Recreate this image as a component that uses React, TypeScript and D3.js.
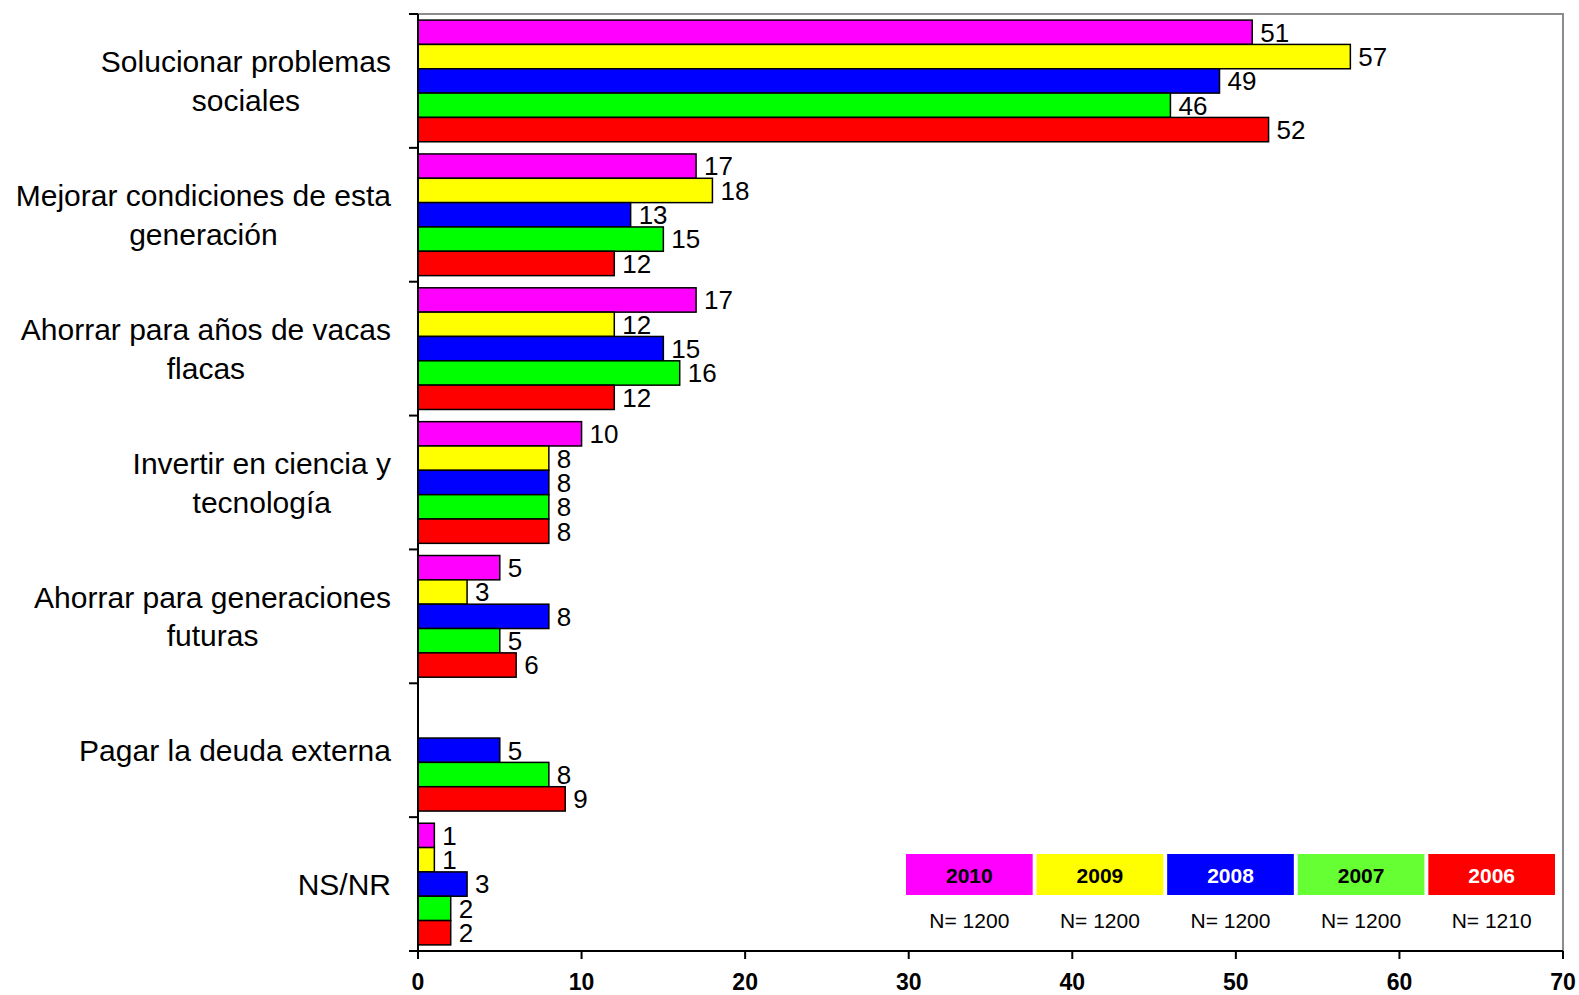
import React, { useEffect, useRef } from 'react';
import * as d3 from 'd3';

const categories = [
  ['Solucionar problemas', 'sociales'],
  ['Mejorar condiciones de esta', 'generación'],
  ['Ahorrar para años de vacas', 'flacas'],
  ['Invertir en ciencia y', 'tecnología'],
  ['Ahorrar para generaciones', 'futuras'],
  ['Pagar la deuda externa'],
  ['NS/NR'],
];

const years = ['2010', '2009', '2008', '2007', '2006'];
const sampleSizes = ['N= 1200', 'N= 1200', 'N= 1200', 'N= 1200', 'N= 1210'];

const values2010 = [51, 17, 17, 10, 5, null, 1];
const values2009 = [57, 18, 12, 8, 3, null, 1];
const values2008 = [49, 13, 15, 8, 8, 5, 3];
const values2007 = [46, 15, 16, 8, 5, 8, 2];
const values2006 = [52, 12, 12, 8, 6, 9, 2];

const xTicks = [0, 10, 20, 30, 40, 50, 60, 70];

const barColors = ['#FF00FF', '#FFFF00', '#0000FF', '#00FF00', '#FF0000'];
const legendColors = ['#FF00FF', '#FFFF00', '#0000FF', '#66FF33', '#FF0000'];
const legendText = ['#000', '#000', '#fff', '#000', '#fff'];

const App: React.FC = () => {
  const svgRef = useRef<SVGSVGElement>(null);

  useEffect(() => {
    if (!svgRef.current) return;
    const svg = d3.select(svgRef.current);
    svg.selectAll('*').remove();

    const left = 418;
    const right = 1563;
    const top = 14;
    const bottom = 951;
    const font = '"Liberation Sans", Arial, sans-serif';
    const narrow = '"Liberation Sans Narrow", "Liberation Sans", Arial, sans-serif';

    const series = [values2010, values2009, values2008, values2007, values2006];

    const x = d3.scaleLinear().domain([0, 70]).range([left, right]);
    const y = d3
      .scaleBand<number>()
      .domain(d3.range(categories.length))
      .range([top, bottom])
      .padding(0);
    const inner = d3
      .scaleBand<number>()
      .domain(d3.range(years.length))
      .range([0, y.bandwidth()])
      .paddingInner(0)
      .paddingOuter(0.25);

    // frame
    svg
      .append('rect')
      .attr('x', left)
      .attr('y', top)
      .attr('width', right - left)
      .attr('height', bottom - top)
      .attr('fill', 'none')
      .attr('stroke', '#8c8c8c')
      .attr('stroke-width', 2);

    // bars + value labels
    series.forEach((vals, si) => {
      const g = svg.append('g');
      vals.forEach((v, ci) => {
        if (v == null) return;
        const by = (y(ci) || 0) + (inner(si) || 0);
        g.append('rect')
          .attr('x', x(0))
          .attr('y', by)
          .attr('width', x(v) - x(0))
          .attr('height', inner.bandwidth())
          .attr('fill', barColors[si])
          .attr('stroke', '#000')
          .attr('stroke-width', 1.5);
        g.append('text')
          .attr('x', x(v) + 8)
          .attr('y', by + inner.bandwidth() / 2)
          .attr('dy', '0.36em')
          .attr('font-family', font)
          .attr('font-size', 26)
          .attr('fill', '#000')
          .text(v);
      });
    });

    // y axis
    svg
      .append('line')
      .attr('x1', left)
      .attr('x2', left)
      .attr('y1', top)
      .attr('y2', bottom)
      .attr('stroke', '#000')
      .attr('stroke-width', 2);
    d3.range(categories.length + 1).forEach((i) => {
      const ty = top + i * y.step();
      svg
        .append('line')
        .attr('x1', left - 9)
        .attr('x2', left)
        .attr('y1', ty)
        .attr('y2', ty)
        .attr('stroke', '#000')
        .attr('stroke-width', 2);
    });

    // category labels: lines centred on each other, block right-aligned
    categories.forEach((lines, ci) => {
      const cy = (y(ci) || 0) + y.bandwidth() / 2;
      const lh = 38.5;
      const g = svg.append('g');
      const texts = lines.map((ln, li) =>
        g
          .append('text')
          .attr('y', cy + (li - (lines.length - 1) / 2) * lh)
          .attr('dy', '0.36em')
          .attr('text-anchor', 'middle')
          .attr('font-family', font)
          .attr('font-size', 30)
          .attr('fill', '#000')
          .text(ln)
      );
      const w = d3.max(texts, (t) => (t.node() as SVGTextElement).getComputedTextLength()) || 0;
      texts.forEach((t) => t.attr('x', 391 - w / 2));
    });

    // x axis
    svg
      .append('line')
      .attr('x1', left - 9)
      .attr('x2', right)
      .attr('y1', bottom)
      .attr('y2', bottom)
      .attr('stroke', '#000')
      .attr('stroke-width', 2);
    xTicks.forEach((t) => {
      svg
        .append('line')
        .attr('x1', x(t))
        .attr('x2', x(t))
        .attr('y1', bottom)
        .attr('y2', bottom + 8)
        .attr('stroke', '#000')
        .attr('stroke-width', 2);
      svg
        .append('text')
        .attr('x', x(t))
        .attr('y', 990)
        .attr('text-anchor', 'middle')
        .attr('font-family', narrow)
        .attr('font-weight', 'bold')
        .attr('font-size', 23)
        .attr('fill', '#000')
        .text(t);
    });

    // legend
    const lx = d3.scaleBand<number>().domain(d3.range(years.length)).range([906, 1555]).paddingInner(0.03);
    years.forEach((yr, i) => {
      const bx = lx(i) || 0;
      svg
        .append('rect')
        .attr('x', bx)
        .attr('y', 854)
        .attr('width', lx.bandwidth())
        .attr('height', 41)
        .attr('fill', legendColors[i]);
      svg
        .append('text')
        .attr('x', bx + lx.bandwidth() / 2)
        .attr('y', 875)
        .attr('dy', '0.36em')
        .attr('text-anchor', 'middle')
        .attr('font-family', narrow)
        .attr('font-weight', 'bold')
        .attr('font-size', 21)
        .attr('fill', legendText[i])
        .text(yr);
      svg
        .append('text')
        .attr('x', bx + lx.bandwidth() / 2)
        .attr('y', 920)
        .attr('dy', '0.36em')
        .attr('text-anchor', 'middle')
        .attr('font-family', font)
        .attr('font-size', 21)
        .attr('fill', '#000')
        .text(sampleSizes[i]);
    });
  }, []);

  return (
    <svg
      ref={svgRef}
      width={1579}
      height={995}
      style={{ position: 'absolute', left: 0, top: 0, background: '#fff' }}
    ></svg>
  );
};

export default App;
